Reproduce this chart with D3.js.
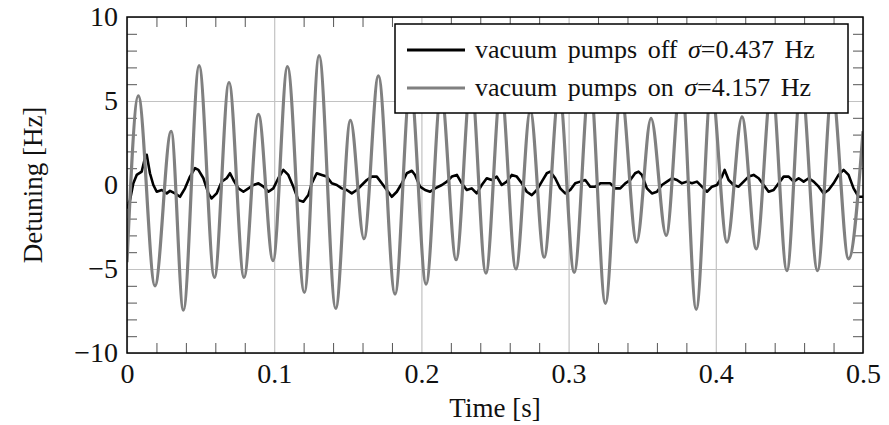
<!DOCTYPE html>
<html>
<head>
<meta charset="utf-8">
<script src="https://cdn.jsdelivr.net/npm/d3@7"></script>
<style>
    body { margin: 0; background: #fff; }
    text { font-family: "Liberation Serif", "DejaVu Serif", serif; fill: #111; }
</style>
</head>
<body>
<div id="svg-spot"></div>
<script>
// Tick values and labels
var xTicks = [0, 0.1, 0.2, 0.3, 0.4, 0.5];
var xTickLabels = ["0", "0.1", "0.2", "0.3", "0.4", "0.5"];
var yTicks = [-10, -5, 0, 5, 10];
var yTickLabels = ["\u221210", "\u22125", "0", "5", "10"];

// Legend entries
var seriesNames = ["vacuum pumps off ", "vacuum pumps on "];
var seriesSigmas = ["=0.437 Hz", "=4.157 Hz"];

// Pumps on: turning points of the oscillation (time [s], detuning [Hz])
var onTime = [0, 0.0077, 0.019, 0.030, 0.0383, 0.049, 0.0594, 0.0693, 0.0795, 0.0893,
    0.0992, 0.109, 0.1205, 0.1305, 0.1418, 0.1518, 0.161, 0.1708, 0.1821, 0.1925,
    0.2032, 0.2134, 0.2236, 0.2337, 0.2438, 0.254, 0.2642, 0.274, 0.2834, 0.2936,
    0.3038, 0.3144, 0.325, 0.3356, 0.3462, 0.356, 0.3663, 0.3765, 0.3867, 0.397,
    0.4076, 0.4178, 0.4275, 0.438, 0.4483, 0.458, 0.4691, 0.479, 0.4902, 0.5];
var onValues = [-4.6, 5.3, -6.0, 3.2, -7.45, 7.1, -5.5, 6.1, -5.5, 4.2,
    -4.5, 7.05, -6.4, 7.7, -7.35, 3.85, -3.2, 6.5, -6.5, 6.0,
    -5.9, 5.5, -4.45, 6.2, -5.25, 5.8, -5.0, 4.4, -4.3, 5.6,
    -5.2, 6.3, -7.05, 5.5, -3.4, 3.96, -3.0, 6.5, -7.4, 5.8,
    -3.4, 4.06, -3.8, 6.0, -5.1, 6.2, -5.1, 5.7, -4.4, 3.2];

// Pumps off: sampled trace (time [s], detuning [Hz])
var offTime = [0, 0.0020, 0.0043, 0.0066, 0.0100, 0.0122, 0.0134, 0.0156, 0.0179, 0.0202,
    0.0236, 0.0270, 0.0292, 0.0326, 0.0360, 0.0394, 0.0428, 0.0462, 0.0485, 0.0519,
    0.0553, 0.0575, 0.0609, 0.0643, 0.0677, 0.0700, 0.0723, 0.0757, 0.0791, 0.0825,
    0.0859, 0.0893, 0.0927, 0.0961, 0.0994, 0.1028, 0.1062, 0.1096, 0.1130, 0.1164,
    0.1198, 0.1232, 0.1255, 0.1289, 0.1323, 0.1357, 0.1391, 0.1425, 0.1459, 0.1493,
    0.1527, 0.1561, 0.1595, 0.1629, 0.1663, 0.1697, 0.1731, 0.1765, 0.1799, 0.1833,
    0.1867, 0.1901, 0.1935, 0.1957, 0.1991, 0.2025, 0.2059, 0.2093, 0.2139, 0.2173,
    0.2207, 0.2241, 0.2274, 0.2308, 0.2342, 0.2376, 0.2410, 0.2444, 0.2478, 0.2512,
    0.2546, 0.2580, 0.2614, 0.2648, 0.2682, 0.2716, 0.2750, 0.2784, 0.2818, 0.2852,
    0.2875, 0.2909, 0.2943, 0.2977, 0.3011, 0.3045, 0.3079, 0.3113, 0.3147, 0.3181,
    0.3215, 0.3249, 0.3283, 0.3317, 0.3351, 0.3385, 0.3419, 0.3452, 0.3475, 0.3498,
    0.3532, 0.3566, 0.3600, 0.3634, 0.3668, 0.3702, 0.3736, 0.3770, 0.3804, 0.3838,
    0.3872, 0.3906, 0.3940, 0.3974, 0.4008, 0.4042, 0.4060, 0.4087, 0.4121, 0.4155,
    0.4189, 0.4223, 0.4257, 0.4291, 0.4325, 0.4359, 0.4393, 0.4427, 0.4461, 0.4495,
    0.4529, 0.4563, 0.4597, 0.4631, 0.4665, 0.4699, 0.4733, 0.4766, 0.4800, 0.4834,
    0.4868, 0.4902, 0.4936, 0.4970, 0.5000];
var offValues = [-1.4, -0.9, 0.1, 0.6, 0.8, 1.6, 1.8, 0.7, 0.0, -0.4,
    -0.3, -0.5, -0.35, -0.5, -0.7, -0.2, 0.5, 1.0, 0.9, 0.4,
    -0.5, -0.8, -0.5, 0.2, 0.4, 0.7, 0.3, -0.2, -0.4, -0.2,
    0.0, 0.1, -0.1, -0.4, -0.2, 0.4, 0.9, 0.6, -0.1, -0.9,
    -1.0, -0.6, 0.1, 0.7, 0.6, 0.5, 0.1, 0.0, -0.2, -0.3,
    -0.5, -0.3, 0.0, 0.3, 0.5, 0.5, 0.1, -0.3, -0.7, -0.4,
    0.1, 0.7, 0.85, 0.6, -0.1, -0.3, -0.4, -0.2, 0.0, 0.2,
    0.5, 0.6, 0.1, -0.3, -0.2, -0.5, 0.0, 0.4, 0.3, 0.5,
    0.0, 0.2, 0.6, 0.5, 0.1, -0.4, -0.6, -0.3, 0.2, 0.7,
    0.8, 0.4, -0.2, -0.5, -0.3, 0.1, 0.2, 0.3, -0.1, -0.1,
    0.1, 0.1, 0.1, -0.2, -0.2, 0.1, 0.3, 0.7, 0.8, 0.6,
    -0.2, -0.5, -0.4, 0.0, 0.2, 0.4, 0.3, 0.1, 0.2, 0.1,
    0.2, -0.1, -0.4, -0.1, 0.0, 0.5, 0.9, 0.3, 0.0, -0.1,
    0.2, 0.5, 0.6, 0.4, 0.0, -0.4, -0.3, 0.1, 0.5, 0.5,
    0.2, 0.4, 0.2, 0.4, 0.2, -0.1, -0.5, -0.3, 0.1, 0.6,
    0.9, 0.6, -0.2, -0.7, -0.7];

// Define the SVG object
var svgWidth = 889;
var svgHeight = 425;

var margins = {
    top: 17,
    right: 26,
    bottom: 72,
    left: 127
};

var width = svgWidth - margins.left - margins.right;
var height = svgHeight - margins.top - margins.bottom;

var svg = d3.select("#svg-spot")
            .append("svg")
            .attr("width", svgWidth)
            .attr("height", svgHeight);

var chartGroup = svg.append("g")
                    .attr("transform", `translate(${margins.left}, ${margins.top})`);

// Scales
var xLinearScale = d3.scaleLinear().domain([0, 0.5]).range([0, width]);
var yLinearScale = d3.scaleLinear().domain([-10, 10]).range([height, 0]);

// Clip everything drawn to the axis box
chartGroup.append("clipPath")
          .attr("id", "plot-clip")
          .append("rect")
          .attr("width", width)
          .attr("height", height);

// Major grid
var gridColor = "#c2c2c2";
chartGroup.append("g")
          .call(d3.axisBottom(xLinearScale).tickValues(xTicks).tickSize(height).tickFormat(""))
          .call(g => g.select(".domain").remove())
          .call(g => g.selectAll("line").attr("stroke", gridColor).attr("stroke-width", 1.2));

chartGroup.append("g")
          .call(d3.axisLeft(yLinearScale).tickValues(yTicks).tickSize(-width).tickFormat(""))
          .call(g => g.select(".domain").remove())
          .call(g => g.selectAll("line").attr("stroke", gridColor).attr("stroke-width", 1.2));

// Minor ticks on all four sides, pointing inward
var xMinor = d3.range(0, 51, 2).map(d => d / 100).filter(d => Math.round(d * 100) % 10 !== 0);
var yMinor = d3.range(-10, 11, 1).filter(d => d % 5 !== 0);
var tickLen = 10;
var tickColor = "#555";

function styleMinor(g) {
    g.select(".domain").remove();
    g.selectAll("line").attr("stroke", tickColor).attr("stroke-width", 1);
}

chartGroup.append("g")
          .attr("transform", `translate(0,${height})`)
          .call(d3.axisBottom(xLinearScale).tickValues(xMinor).tickSize(-tickLen).tickFormat(""))
          .call(styleMinor);
chartGroup.append("g")
          .call(d3.axisTop(xLinearScale).tickValues(xMinor).tickSize(-tickLen).tickFormat(""))
          .call(styleMinor);
chartGroup.append("g")
          .call(d3.axisLeft(yLinearScale).tickValues(yMinor).tickSize(-tickLen).tickFormat(""))
          .call(styleMinor);
chartGroup.append("g")
          .attr("transform", `translate(${width},0)`)
          .call(d3.axisRight(yLinearScale).tickValues(yMinor).tickSize(-tickLen).tickFormat(""))
          .call(styleMinor);

// Lines
var offData = offTime.map((t, i) => ({ t: t, v: offValues[i] }));
var onData = onTime.map((t, i) => ({ t: t, v: onValues[i] }));

var linesGroup = chartGroup.append("g").attr("clip-path", "url(#plot-clip)");

var offLine = d3.line()
                .x(d => xLinearScale(d.t))
                .y(d => yLinearScale(d.v));

var onLine = d3.line()
               .x(d => xLinearScale(d.t))
               .y(d => yLinearScale(d.v))
               .curve(d3.curveMonotoneX);

linesGroup.append("path")
          .datum(offData)
          .attr("d", offLine)
          .attr("fill", "none")
          .attr("stroke", "#000")
          .attr("stroke-width", 2.6)
          .attr("stroke-linejoin", "round");

linesGroup.append("path")
          .datum(onData)
          .attr("d", onLine)
          .attr("fill", "none")
          .attr("stroke", "#808080")
          .attr("stroke-width", 3.2);

// Axis frame
chartGroup.append("rect")
          .attr("width", width)
          .attr("height", height)
          .attr("fill", "none")
          .attr("stroke", "#000")
          .attr("stroke-width", 1.5);

// Tick labels
var xLabelAxis = chartGroup.append("g")
    .attr("transform", `translate(0,${height})`)
    .call(d3.axisBottom(xLinearScale).tickValues(xTicks).tickSize(0).tickPadding(10)
        .tickFormat((d, i) => xTickLabels[i]));
xLabelAxis.select(".domain").remove();
xLabelAxis.selectAll("text").attr("font-size", 28).attr("font-family", null);

var yLabelAxis = chartGroup.append("g")
    .call(d3.axisLeft(yLinearScale).tickValues(yTicks).tickSize(0).tickPadding(9)
        .tickFormat((d, i) => yTickLabels[i]));
yLabelAxis.select(".domain").remove();
yLabelAxis.selectAll("text").attr("font-size", 28).attr("font-family", null);

// Axis titles
svg.append("text")
   .attr("x", margins.left + width / 2)
   .attr("y", 417)
   .attr("text-anchor", "middle")
   .attr("font-size", 27)
   .text("Time [s]");

svg.append("text")
   .attr("transform", `translate(42, ${margins.top + height / 2}) rotate(-90)`)
   .attr("text-anchor", "middle")
   .attr("font-size", 27)
   .text("Detuning [Hz]");

// Legend
var legend = svg.append("g");

legend.append("rect")
      .attr("x", 395)
      .attr("y", 24)
      .attr("width", 453)
      .attr("height", 89)
      .attr("fill", "#fff")
      .attr("stroke", "#000")
      .attr("stroke-width", 1.5);

var legendColors = ["#000", "#808080"];
var legendRows = [50, 88];

seriesNames.forEach(function(name, i) {
    legend.append("line")
          .attr("x1", 407)
          .attr("x2", 465)
          .attr("y1", legendRows[i])
          .attr("y2", legendRows[i])
          .attr("stroke", legendColors[i])
          .attr("stroke-width", 3.2);

    var label = legend.append("text")
                      .attr("x", 475)
                      .attr("y", legendRows[i] + 8)
                      .attr("font-size", 26)
                      .attr("word-spacing", 4);
    label.append("tspan").text(name);
    label.append("tspan").attr("font-style", "italic").text("\u03c3");
    label.append("tspan").text(seriesSigmas[i]);
});
</script>
</body>
</html>
